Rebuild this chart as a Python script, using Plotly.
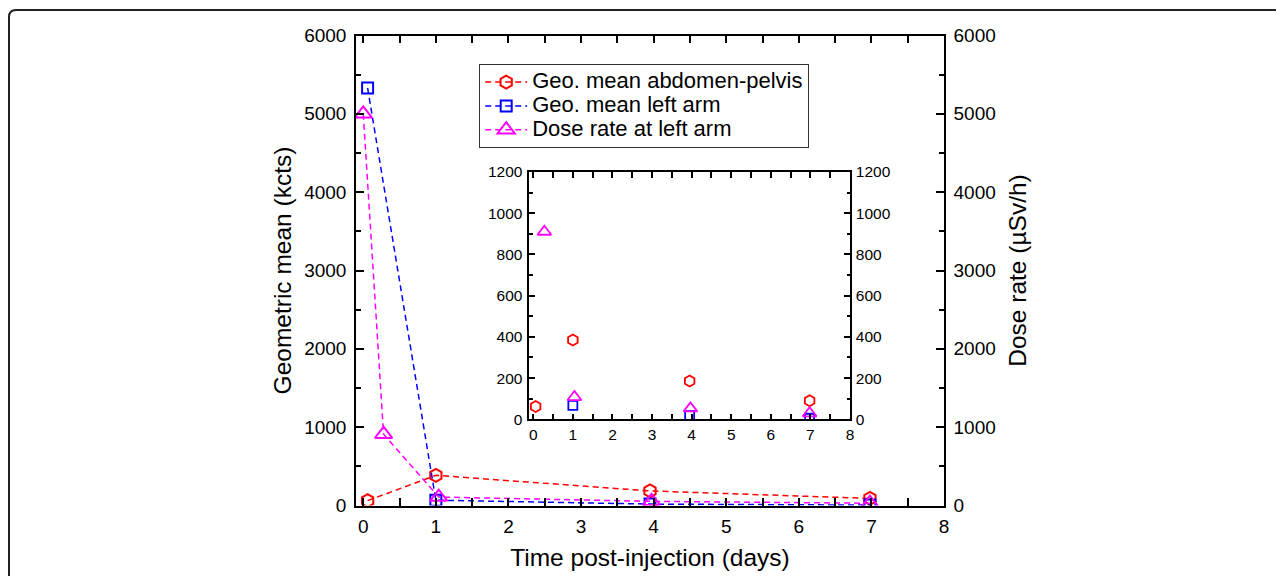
import plotly.graph_objects as go

# ---- data ----
abd_x = [0.06, 1.0, 3.95, 6.98]
abd_y = [62, 385, 186, 90]          # Geo. mean abdomen-pelvis (kcts)
arm_x = [0.06, 1.0, 3.95, 6.98]
arm_y = [5330, 68, 18, 5]           # Geo. mean left arm (kcts)
dose_x = [0.0, 0.28, 1.04, 3.97, 6.98]
dose_y = [5000, 910, 108, 53, 29]   # Dose rate at left arm (uSv/h)

names = ["Geo. mean abdomen-pelvis", "Geo. mean left arm", "Dose rate at left arm"]
colors = ["#ff0000", "#0000ff", "#ff00ff"]
symbols = ["hexagon-open", "square-open", "triangle-up-open"]

x_ticks = list(range(0, 9))
main_y_ticks = [0, 1000, 2000, 3000, 4000, 5000, 6000]
inset_y_ticks = [0, 200, 400, 600, 800, 1000, 1200]

FONT = "Liberation Sans, Arial, Helvetica, sans-serif"
# the page body keeps its default 8px margin, so the figure is sized to fill
# the 1284x576 window from (8, 8)
OFF = 8
W, H = 1284 - OFF, 576 - OFF

def px(x):  # page pixel -> paper fraction
    return (x - OFF) / W

def py(y):
    return (H - (y - OFF)) / H

fig = go.Figure()

series = [(abd_x, abd_y, "y"), (arm_x, arm_y, "y"), (dose_x, dose_y, "y2")]
main_sizes = [13, 11, 15]
inset_sizes = [11, 9, 12]

for i, (xs, ys, yax) in enumerate(series):
    fig.add_trace(go.Scatter(
        x=xs, y=ys, name=f'<span style="font-size:22px">{names[i]}</span>',
        xaxis="x", yaxis=yax,
        mode="lines+markers",
        line=dict(color=colors[i], width=1.5, dash="6px,4px"),
        marker=dict(symbol=symbols[i], size=main_sizes[i], color=colors[i],
                    line=dict(width=2, color=colors[i])),
    ))

for i, (xs, ys, yax) in enumerate(series):
    fig.add_trace(go.Scatter(
        x=xs, y=ys, name=names[i], xaxis="x3",
        yaxis="y4" if yax == "y2" else "y3",
        mode="markers", showlegend=False,
        marker=dict(symbol=symbols[i], size=inset_sizes[i], color=colors[i],
                    line=dict(width=1.8, color=colors[i])),
    ))

axis_common = dict(showline=True, linecolor="black", linewidth=1.5,
                   ticks="inside", tickcolor="black", tickwidth=1.5,
                   showgrid=False, zeroline=False, automargin=False)

main_tick_font = dict(family=FONT, size=19, color="black")
inset_tick_font = dict(family=FONT, size=15.5, color="black")
title_font = dict(family=FONT, size=24.5, color="black")

def minor(dt, ln):
    return dict(ticks="inside", dtick=dt, ticklen=ln, tickcolor="black", tickwidth=1.5)

fig.update_layout(
    template="none",
    width=W, height=H, autosize=False,
    margin=dict(l=0, r=0, t=0, b=0, pad=0),
    paper_bgcolor="white", plot_bgcolor="white",
    font=dict(family=FONT, color="black"),
    xaxis=dict(**axis_common, domain=[px(356), px(944)], range=[-0.1, 8],
               tickvals=x_ticks, ticklen=8, mirror="allticks", minor=minor(0.5, 5),
               tickfont=main_tick_font, ticklabelstandoff=3,
               title=dict(text="Time post-injection (days)", font=title_font, standoff=13),
               anchor="y"),
    yaxis=dict(**axis_common, domain=[py(505.5), py(35.5)], range=[0, 6000],
               tickvals=main_y_ticks, ticklen=8, minor=minor(500, 5),
               tickfont=main_tick_font, ticklabelstandoff=4,
               title=dict(text="Geometric mean (kcts)", font=title_font, standoff=6),
               anchor="x"),
    yaxis2=dict(**axis_common, overlaying="y", side="right", range=[0, 6000],
                tickvals=main_y_ticks, ticklen=8, minor=minor(500, 5),
                tickfont=main_tick_font, ticklabelstandoff=4,
                title=dict(text="Dose rate (µSv/h)", font=title_font, standoff=14),
                anchor="x"),
    xaxis3=dict(**axis_common, domain=[px(529.3), px(850)], range=[-0.1, 8],
                tickvals=x_ticks, ticklen=6, mirror="allticks", minor=minor(0.5, 3.5),
                tickfont=inset_tick_font, anchor="y3"),
    yaxis3=dict(**axis_common, domain=[py(419.3), py(172)], range=[0, 1200],
                tickvals=inset_y_ticks, ticklen=6, minor=minor(100, 3.5),
                tickfont=inset_tick_font, ticklabelstandoff=2, anchor="x3"),
    yaxis4=dict(**axis_common, overlaying="y3", side="right", range=[0, 1200],
                tickvals=inset_y_ticks, ticklen=6, minor=minor(100, 3.5),
                tickfont=inset_tick_font, ticklabelstandoff=1, anchor="x3"),
    legend=dict(x=px(479), y=py(64), xanchor="left", yanchor="top",
                bgcolor="white", bordercolor="#333333", borderwidth=1.2,
                font=dict(family=FONT, size=16, color="black"),
                itemwidth=42, tracegroupgap=0),
    showlegend=True,
)

# outer rounded frame (top and left edges, as in the source image)
r = 7
path = (f"M {px(1284)},{py(10)} L {px(9 + r)},{py(10)} "
        f"Q {px(9)},{py(10)} {px(9)},{py(10 + r)} L {px(9)},{py(576)}")
fig.add_shape(type="path", path=path, xref="paper", yref="paper",
              line=dict(color="#222222", width=2))

fig.write_html("out.html")
